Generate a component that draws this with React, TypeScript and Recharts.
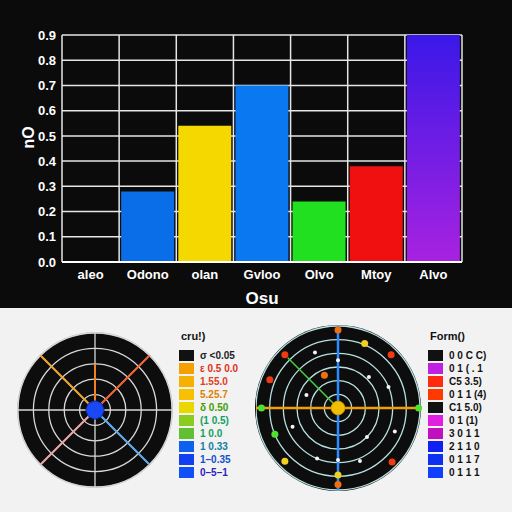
import React from 'react';
import {
  BarChart, Bar, XAxis, YAxis, CartesianGrid, Cell,
  RadarChart, Radar, PolarGrid, PolarAngleAxis, PolarRadiusAxis,
} from 'recharts';

// ---------- top bar chart data ----------
const categories = ['aleo', 'Odono', 'olan', 'Gvloo', 'Olvo', 'Mtoy', 'Alvo'];
const barValues = [0, 0.28, 0.54, 0.70, 0.24, 0.38, 0.9];
const barColors = ['#0a6ee8', '#0a6ee8', '#f5d800', '#0a78f0', '#20e020', '#f01010', 'url(#purpleGrad)'];
const yTicks = [0, 0.1, 0.2, 0.3, 0.4, 0.5, 0.6, 0.7, 0.8, 0.9];
const xTitle = 'Osu';
const yTitle = 'nO';

// ---------- left polar data (8 directions) ----------
const leftAngles = ['a0', 'a1', 'a2', 'a3', 'a4', 'a5', 'a6', 'a7'];
const leftCenter = [0.6, 0.6, 0.6, 0.6, 0.6, 0.6, 0.6, 0.6];
const leftBlueSpoke = [0, 0, 0, 5, 0, 0, 0, 0];
const leftOrangeSpoke = [0, 0, 0, 0, 0, 0, 0, 5];
const leftRedSpoke = [0, 5, 0, 0, 0, 0, 0, 0];
const leftPinkSpoke = [0, 0, 0, 0, 0, 5, 0, 0];
const leftTopSpoke = [3, 0, 0, 0, 0, 0, 0, 0];
const leftLegendTitle = 'cru!)';
const leftLegendLabels = ['σ <0.05', 'ε 0.5 0.0', '1.55.0', '5.25.7', 'δ 0.50', '(1 0.5)', '1 0.0', '1 0.33', '1–0.35', '0–5–1'];
const leftLegendColors = ['#111111', '#f5a000', '#f6b000', '#f7c000', '#e8d800', '#8ccc20', '#60c030', '#1060f0', '#1040f0', '#1050f8'];
const leftLegendTextColors = ['#222', '#e03020', '#e04020', '#e08000', '#40a000', '#10a060', '#10a060', '#1080a0', '#1050d0', '#3020c0'];

// ---------- right polar data (16 directions) ----------
const rightAngles = ['b0', 'b1', 'b2', 'b3', 'b4', 'b5', 'b6', 'b7', 'b8', 'b9', 'b10', 'b11', 'b12', 'b13', 'b14', 'b15'];
const rightCenter = [0.5, 0.5, 0.5, 0.5, 0.5, 0.5, 0.5, 0.5, 0.5, 0.5, 0.5, 0.5, 0.5, 0.5, 0.5, 0.5];
const rightHorizontal = [0, 0, 0, 0, 6, 0, 0, 0, 0, 0, 0, 0, 6, 0, 0, 0];
const rightVertical = [6, 0, 0, 0, 0, 0, 0, 0, 6, 0, 0, 0, 0, 0, 0, 0];
const rightGreen = [0, 0, 0, 0, 0, 0, 0, 0, 0, 0, 0, 0, 0, 0, 5.2, 0];
const rightRedDots = [0, 0, 5.5, 0, 0, 0, 5.6, 0, 0, 0, 0, 0, 0, 5.4, 5.5, 0];
const rightOrangeDots = [5.7, 0, 0, 0, 0, 0, 0, 0, 5.6, 0, 0, 0, 0, 0, 0, 2.6];
const rightYellowDots = [0, 5.1, 0, 0, 0, 0, 0, 0, 4.9, 0, 5.5, 0, 0, 0, 0, 0];
const rightGreenDots = [0, 0, 0, 0, 5.9, 0, 0, 0, 0, 0, 0, 5.0, 5.6, 0, 0, 0];
const rightWhiteDots = [3.5, 0, 3.2, 4.0, 0, 4.5, 3.0, 4.2, 3.8, 4.0, 0, 3.6, 0, 2.5, 0, 4.4];
const rightLegendTitle = 'Form()';
const rightLegendLabels = ['0 0 C C)', '0 1 ( . 1', 'C5 3.5)', '0 1 1 (4)', 'C1 5.0)', '0 1 (1)', '3 0 1 1', '2 1 1 0', '0 1 1 7', '0 1 1 1'];
const rightLegendColors = ['#111111', '#c020e0', '#ff2a10', '#ff3a00', '#111111', '#e020e0', '#c010c0', '#1020f0', '#1030f0', '#1040ff'];

const barData = categories.map((c, i) => ({ name: c, value: barValues[i] }));
const leftData = leftAngles.map((a, i) => ({
  a, center: leftCenter[i], blue: leftBlueSpoke[i], orange: leftOrangeSpoke[i],
  red: leftRedSpoke[i], pink: leftPinkSpoke[i], top: leftTopSpoke[i],
}));
const rightData = rightAngles.map((a, i) => ({
  a, center: rightCenter[i], h: rightHorizontal[i], v: rightVertical[i], g: rightGreen[i],
  red: rightRedDots[i], orange: rightOrangeDots[i], yellow: rightYellowDots[i],
  green: rightGreenDots[i], white: rightWhiteDots[i],
}));

const font = '"Liberation Sans", Arial, sans-serif';

const makeDot = (color: string, r: number) => (props: any) => {
  const v = props?.value;
  const val = Array.isArray(v) ? v[1] : v;
  if (!val || val <= 0) return <g key={props.key ?? `${props.cx}-${props.cy}-e`} />;
  return <circle key={props.key ?? `${props.cx}-${props.cy}`} cx={props.cx} cy={props.cy} r={r} fill={color} />;
};

function Legend({ x, y, title, labels, colors, textColors }: any) {
  return (
    <div style={{ position: 'absolute', left: x, top: y, fontFamily: font }}>
      <div style={{ fontSize: 11, fontWeight: 'bold', color: '#111', marginBottom: 7, marginLeft: 2 }}>{title}</div>
      {labels.map((l: string, i: number) => (
        <div key={i} style={{ display: 'flex', alignItems: 'center', height: 13 }}>
          <div style={{ width: 15, height: 11, background: colors[i], marginRight: 6 }} />
          <span style={{ fontSize: 10, fontWeight: 'bold', color: textColors ? textColors[i] : '#111', whiteSpace: 'nowrap' }}>{l}</span>
        </div>
      ))}
    </div>
  );
}

export default function App() {
  return (
    <div style={{ position: 'fixed', left: 0, top: 0, width: 512, height: 512, background: '#f2f2f2', overflow: 'hidden', fontFamily: font }}>
      <div style={{ position: 'absolute', left: 0, top: 0, width: 512, height: 308, background: '#0b0b0b' }}>
        <BarChart width={512} height={308} data={barData} margin={{ top: 35, right: 50, bottom: 4, left: 22 }} barCategoryGap={2}>
          <defs>
            <linearGradient id="purpleGrad" x1="0" y1="0" x2="0" y2="1">
              <stop offset="0%" stopColor="#3a18e8" />
              <stop offset="100%" stopColor="#a822e0" />
            </linearGradient>
          </defs>
          <CartesianGrid
            stroke="#e6e6e6"
            strokeWidth={1.5}
            verticalCoordinatesGenerator={({ offset }: any) =>
              Array.from({ length: categories.length + 1 }, (_, i) => offset.left + (i * offset.width) / categories.length)
            }
          />
          <XAxis
            dataKey="name"
            height={42}
            axisLine={{ stroke: '#ffffff', strokeWidth: 2 }}
            tickLine={false}
            tick={{ fill: '#ffffff', fontSize: 13, fontWeight: 'bold' }}
            label={{ value: xTitle, position: 'insideBottom', offset: 0, fill: '#ffffff', fontSize: 17, fontWeight: 'bold' }}
          />
          <YAxis
            width={40}
            domain={[0, 0.9]}
            ticks={yTicks}
            tickFormatter={(v: number) => v.toFixed(1)}
            axisLine={false}
            tickLine={false}
            tickMargin={0}
            tick={{ fill: '#ffffff', fontSize: 13, fontWeight: 'bold' }}
            label={{ value: yTitle, angle: -90, position: 'insideLeft', offset: 6, fill: '#ffffff', fontSize: 16, fontWeight: 'bold' }}
          />
          <Bar dataKey="value" isAnimationActive={false}>
            {barData.map((d, i) => (
              <Cell key={d.name} fill={barColors[i]} />
            ))}
          </Bar>
        </BarChart>
      </div>

      {/* left polar */}
      <div style={{ position: 'absolute', left: 0, top: 308, width: 256, height: 204 }}>
        <div style={{ position: 'absolute', left: 95 - 78, top: 102 - 78, width: 156, height: 156, borderRadius: '50%', background: '#0d0d0d', border: '1px solid #cccccc', boxSizing: 'border-box' }} />
        <div style={{ position: 'absolute', left: 0, top: 0 }}>
          <RadarChart width={175} height={204} data={leftData} cx={95} cy={102} outerRadius={77} margin={{ top: 0, right: 0, bottom: 0, left: 0 }}>
            <PolarGrid gridType="circle" stroke="#d8d8d8" strokeWidth={1.3} />
            <PolarAngleAxis dataKey="a" tick={false} axisLine={false} />
            <PolarRadiusAxis domain={[0, 5]} tickCount={6} tick={false} axisLine={false} />
            <Radar dataKey="blue" stroke="#5aa8f0" strokeWidth={2} fill="none" isAnimationActive={false} />
            <Radar dataKey="orange" stroke="#f0a020" strokeWidth={2} fill="none" isAnimationActive={false} />
            <Radar dataKey="red" stroke="#f06030" strokeWidth={2} fill="none" isAnimationActive={false} />
            <Radar dataKey="pink" stroke="#e8a0a0" strokeWidth={2} fill="none" isAnimationActive={false} />
            <Radar dataKey="top" stroke="#f08020" strokeWidth={2} fill="none" isAnimationActive={false} />
            <Radar dataKey="center" stroke="#1030c0" fill="#1a48f5" fillOpacity={1} isAnimationActive={false} />
          </RadarChart>
        </div>
        <Legend x={179} y={22} title={leftLegendTitle} labels={leftLegendLabels} colors={leftLegendColors} textColors={leftLegendTextColors} />
      </div>

      {/* right polar */}
      <div style={{ position: 'absolute', left: 256, top: 308, width: 256, height: 204 }}>
        <div style={{ position: 'absolute', left: 82 - 83, top: 100 - 83, width: 166, height: 166, borderRadius: '50%', background: '#0d0d0d' }} />
        <div style={{ position: 'absolute', left: 0, top: 0 }}>
          <RadarChart width={170} height={204} data={rightData} cx={82} cy={100} outerRadius={82} margin={{ top: 0, right: 0, bottom: 0, left: 0 }}>
            <PolarGrid gridType="circle" radialLines={false} stroke="#b8e0e0" strokeWidth={1.3} />
            <PolarAngleAxis dataKey="a" tick={false} axisLine={false} />
            <PolarRadiusAxis domain={[0, 6]} tickCount={7} tick={false} axisLine={false} />
            <Radar dataKey="g" stroke="#40d040" strokeWidth={1.5} fill="none" isAnimationActive={false} />
            <Radar dataKey="v" stroke="#2a8cff" strokeWidth={2.5} strokeDasharray="5 3" fill="none" isAnimationActive={false} />
            <Radar dataKey="h" stroke="#f0a000" strokeWidth={2.5} fill="none" isAnimationActive={false} />
            <Radar dataKey="white" stroke="none" fill="none" dot={makeDot('#f4f4f4', 2)} isAnimationActive={false} />
            <Radar dataKey="red" stroke="none" fill="none" dot={makeDot('#f03a10', 3.5)} isAnimationActive={false} />
            <Radar dataKey="orange" stroke="none" fill="none" dot={makeDot('#f07010', 3.5)} isAnimationActive={false} />
            <Radar dataKey="yellow" stroke="none" fill="none" dot={makeDot('#f0d020', 3.5)} isAnimationActive={false} />
            <Radar dataKey="green" stroke="none" fill="none" dot={makeDot('#50e030', 3.5)} isAnimationActive={false} />
            <Radar dataKey="center" stroke="#e0a000" fill="#f0c000" fillOpacity={1} isAnimationActive={false} />
          </RadarChart>
        </div>
        <Legend x={172} y={22} title={rightLegendTitle} labels={rightLegendLabels} colors={rightLegendColors} />
      </div>
    </div>
  );
}
